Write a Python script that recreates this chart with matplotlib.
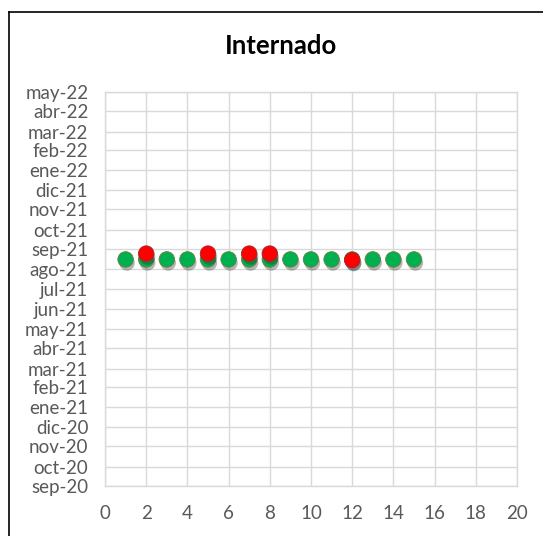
import matplotlib
matplotlib.use('Agg')
import matplotlib.pyplot as plt
import matplotlib.dates as mdates
import matplotlib.patheffects as pe
from datetime import datetime

plt.rcParams['font.family'] = ['Lato', 'DejaVu Sans']

# datos
x_verde = [1, 2, 3, 4, 5, 6, 7, 8, 9, 10, 11, 12, 13, 14, 15]
y_verde = ['2021-08-16'] * 15
x_rojo = [2, 5, 7, 8, 12]
y_rojo = ['2021-08-25', '2021-08-25', '2021-08-25', '2021-08-25', '2021-08-15']

meses = ['ene', 'feb', 'mar', 'abr', 'may', 'jun', 'jul', 'ago', 'sep', 'oct', 'nov', 'dic']
y_ini = datetime(2020, 9, 1)
y_fin = datetime(2022, 5, 1)

fig = plt.figure(figsize=(5.43, 5.36), dpi=100)
ax = fig.add_axes([0.1934, 0.0933, 0.7587, 0.7351])

sombra = [pe.SimplePatchShadow(offset=(1.0, -2.5), alpha=0.35, shadow_rgbFace='#303030'), pe.Normal()]

yv = mdates.datestr2num(y_verde)
yr = mdates.datestr2num(y_rojo)
ax.scatter(x_verde, yv, s=125, c='#00B050', edgecolors='#6B7F3A', linewidths=0.6,
           zorder=3, path_effects=sombra)
ax.scatter(x_rojo, yr, s=125, c='#FF0000', edgecolors='#9B2A2A', linewidths=0.6,
           zorder=4, path_effects=sombra)

ax.set_xlim(0, 20)
ax.set_xticks(range(0, 21, 2))
ax.set_ylim(mdates.date2num(y_ini), mdates.date2num(y_fin))

ticks = []
etiquetas = []
a, m = 2020, 9
while (a, m) <= (2022, 5):
    ticks.append(mdates.date2num(datetime(a, m, 1)))
    etiquetas.append(f'{meses[m - 1]}-{a % 100:02d}')
    m += 1
    if m > 12:
        m = 1
        a += 1
ax.set_yticks(ticks)
ax.set_yticklabels(etiquetas)

ax.grid(True, color='#D9D9D9', linewidth=1.0)
ax.set_axisbelow(True)
for s in ax.spines.values():
    s.set_color('#D9D9D9')
    s.set_linewidth(1.0)
ax.tick_params(length=0, colors='#595959', labelsize=13.5)
ax.tick_params(axis='x', pad=14)
ax.tick_params(axis='y', pad=12)

fig.text(0.518, 0.914, 'Internado', ha='center', va='center', fontsize=18.5,
         fontweight='bold', color='#000000')

# borde del recuadro (arriba e izquierda)
fig.add_artist(plt.Line2D([8.5 / 543, 1.0], [1 - 11.5 / 536, 1 - 11.5 / 536],
                          color='black', linewidth=1.2, transform=fig.transFigure))
fig.add_artist(plt.Line2D([8.5 / 543, 8.5 / 543], [0, 1 - 11.5 / 536],
                          color='black', linewidth=1.2, transform=fig.transFigure))

fig.savefig('out.png', dpi=100)
